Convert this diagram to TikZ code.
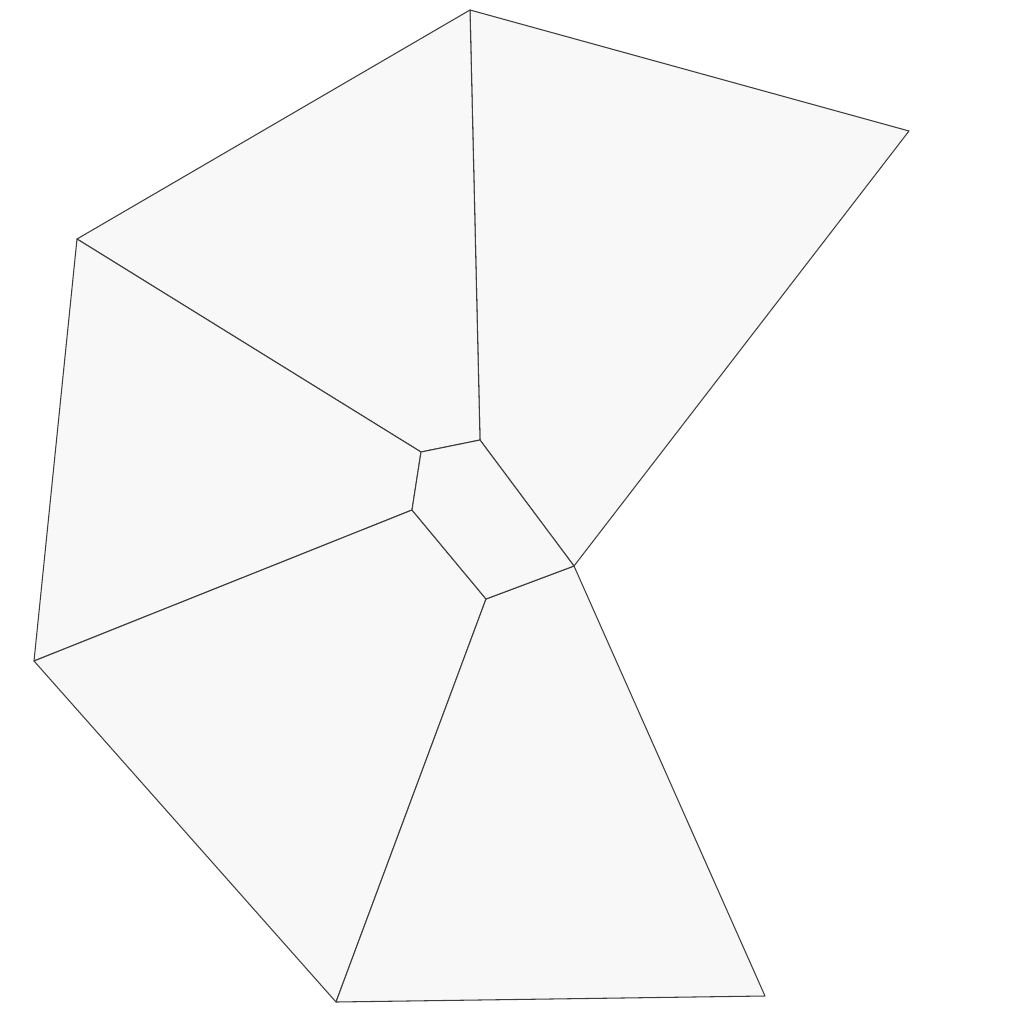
\documentclass[tikz,border=0pt]{standalone}
\usepackage{tikz}
\definecolor{cellfill}{HTML}{F8F8F8}
\definecolor{celledge}{HTML}{3C3C3C}
\tikzset{
  meshcell/.style={fill=cellfill,draw=celledge,line width=0.3pt,line join=round},
  every picture/.style={font=\small}
}

\begin{document}
\begin{tikzpicture}[x=0.01cm,y=-0.01cm]
  \useasboundingbox (0,0) rectangle (1024,1024);
  % outer vertices
  \coordinate (top) at (470,10);
  \coordinate (ne) at (909,131);
  \coordinate (waist) at (574,566);
  \coordinate (se) at (765,996);
  \coordinate (bot) at (336,1002);
  \coordinate (wsw) at (34,661);
  \coordinate (wnw) at (77,239);
  % inner ring
  \coordinate (in1) at (421,452);
  \coordinate (in2) at (480,440);
  \coordinate (in4) at (486,599);
  \coordinate (in5) at (412,510);
  \path[meshcell] (top)--(ne)--(waist)--(in2)--cycle;
  \path[meshcell] (top)--(in2)--(in1)--(wnw)--cycle;
  \path[meshcell] (wnw)--(in1)--(in5)--(wsw)--cycle;
  \path[meshcell] (wsw)--(in5)--(in4)--(bot)--cycle;
  \path[meshcell] (bot)--(in4)--(waist)--(se)--cycle;
  \path[meshcell] (in1)--(in2)--(waist)--(in4)--(in5)--cycle;
\end{tikzpicture}
\end{document}
